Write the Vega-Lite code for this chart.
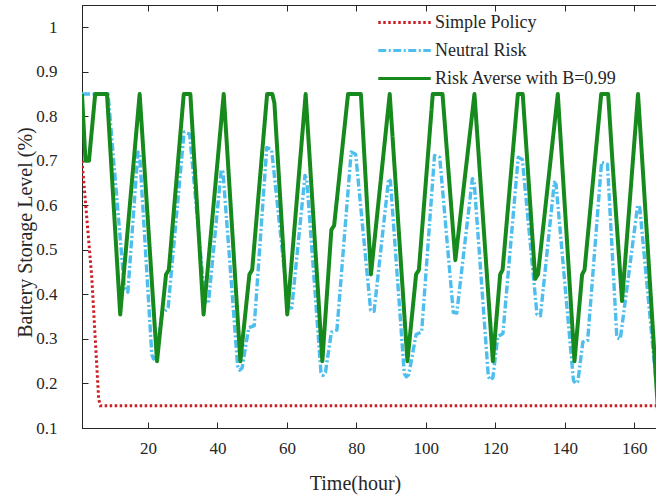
{
  "$schema": "https://vega.github.io/schema/vega-lite/v6.json",
  "width": 580,
  "height": 423,
  "autosize": {"type": "none"},
  "padding": {"left": 82, "top": 5, "right": 0, "bottom": 72},
  "background": "white",
  "config": {
    "font": "Liberation Serif",
    "view": {"stroke": "#262626", "strokeWidth": 1},
    "axis": {
      "domainColor": "#262626", "tickColor": "#262626", "labelColor": "#262626", "titleColor": "#262626",
      "grid": false, "tickSize": -6, "tickWidth": 1,
      "labelFont": "Liberation Serif", "titleFont": "Liberation Serif",
      "labelFontSize": 17, "titleFontSize": 20, "titleFontWeight": "normal"
    },
    "legend": {
      "labelFont": "Liberation Serif", "labelFontSize": 18, "labelColor": "#262626", "labelLimit": 400
    }
  },
  "data": {
    "values": [
      {"series": "Simple Policy", "hour": 1, "level": 0.70},
      {"series": "Simple Policy", "hour": 3.8, "level": 0.44},
      {"series": "Simple Policy", "hour": 5.8, "level": 0.165},
      {"series": "Simple Policy", "hour": 6.3, "level": 0.15},
      {"series": "Simple Policy", "hour": 168, "level": 0.15},

      {"series": "Neutral Risk", "hour": 1, "level": 0.85},
      {"series": "Neutral Risk", "hour": 8.5, "level": 0.85},
      {"series": "Neutral Risk", "hour": 13.2, "level": 0.415},
      {"series": "Neutral Risk", "hour": 14.2, "level": 0.405},
      {"series": "Neutral Risk", "hour": 17.1, "level": 0.72},
      {"series": "Neutral Risk", "hour": 17.6, "level": 0.715},
      {"series": "Neutral Risk", "hour": 21.1, "level": 0.265},
      {"series": "Neutral Risk", "hour": 21.6, "level": 0.255},
      {"series": "Neutral Risk", "hour": 22.3, "level": 0.26},
      {"series": "Neutral Risk", "hour": 24.0, "level": 0.355},
      {"series": "Neutral Risk", "hour": 25.8, "level": 0.37},
      {"series": "Neutral Risk", "hour": 30.4, "level": 0.765},
      {"series": "Neutral Risk", "hour": 32.0, "level": 0.76},
      {"series": "Neutral Risk", "hour": 36.4, "level": 0.385},
      {"series": "Neutral Risk", "hour": 37.4, "level": 0.38},
      {"series": "Neutral Risk", "hour": 41.1, "level": 0.68},
      {"series": "Neutral Risk", "hour": 41.6, "level": 0.675},
      {"series": "Neutral Risk", "hour": 45.8, "level": 0.24},
      {"series": "Neutral Risk", "hour": 46.4, "level": 0.23},
      {"series": "Neutral Risk", "hour": 47.1, "level": 0.235},
      {"series": "Neutral Risk", "hour": 49.0, "level": 0.325},
      {"series": "Neutral Risk", "hour": 50.6, "level": 0.33},
      {"series": "Neutral Risk", "hour": 54.2, "level": 0.73},
      {"series": "Neutral Risk", "hour": 55.6, "level": 0.725},
      {"series": "Neutral Risk", "hour": 60.4, "level": 0.37},
      {"series": "Neutral Risk", "hour": 61.4, "level": 0.37},
      {"series": "Neutral Risk", "hour": 65.2, "level": 0.667},
      {"series": "Neutral Risk", "hour": 65.7, "level": 0.66},
      {"series": "Neutral Risk", "hour": 69.8, "level": 0.225},
      {"series": "Neutral Risk", "hour": 70.4, "level": 0.218},
      {"series": "Neutral Risk", "hour": 71.1, "level": 0.225},
      {"series": "Neutral Risk", "hour": 72.8, "level": 0.315},
      {"series": "Neutral Risk", "hour": 74.4, "level": 0.32},
      {"series": "Neutral Risk", "hour": 78.5, "level": 0.72},
      {"series": "Neutral Risk", "hour": 79.8, "level": 0.715},
      {"series": "Neutral Risk", "hour": 84.1, "level": 0.365},
      {"series": "Neutral Risk", "hour": 85.1, "level": 0.362},
      {"series": "Neutral Risk", "hour": 89.3, "level": 0.66},
      {"series": "Neutral Risk", "hour": 89.8, "level": 0.655},
      {"series": "Neutral Risk", "hour": 93.8, "level": 0.222},
      {"series": "Neutral Risk", "hour": 94.4, "level": 0.215},
      {"series": "Neutral Risk", "hour": 95.1, "level": 0.22},
      {"series": "Neutral Risk", "hour": 97.2, "level": 0.31},
      {"series": "Neutral Risk", "hour": 98.8, "level": 0.316},
      {"series": "Neutral Risk", "hour": 102.5, "level": 0.712},
      {"series": "Neutral Risk", "hour": 104.0, "level": 0.708},
      {"series": "Neutral Risk", "hour": 107.9, "level": 0.36},
      {"series": "Neutral Risk", "hour": 108.9, "level": 0.358},
      {"series": "Neutral Risk", "hour": 113.4, "level": 0.66},
      {"series": "Neutral Risk", "hour": 113.9, "level": 0.655},
      {"series": "Neutral Risk", "hour": 118.0, "level": 0.215},
      {"series": "Neutral Risk", "hour": 118.6, "level": 0.208},
      {"series": "Neutral Risk", "hour": 119.3, "level": 0.213},
      {"series": "Neutral Risk", "hour": 120.7, "level": 0.305},
      {"series": "Neutral Risk", "hour": 122.2, "level": 0.312},
      {"series": "Neutral Risk", "hour": 126.6, "level": 0.708},
      {"series": "Neutral Risk", "hour": 127.8, "level": 0.703},
      {"series": "Neutral Risk", "hour": 132.0, "level": 0.355},
      {"series": "Neutral Risk", "hour": 133.0, "level": 0.352},
      {"series": "Neutral Risk", "hour": 137.0, "level": 0.652},
      {"series": "Neutral Risk", "hour": 137.5, "level": 0.647},
      {"series": "Neutral Risk", "hour": 142.5, "level": 0.207},
      {"series": "Neutral Risk", "hour": 143.1, "level": 0.2},
      {"series": "Neutral Risk", "hour": 143.8, "level": 0.205},
      {"series": "Neutral Risk", "hour": 145.2, "level": 0.293},
      {"series": "Neutral Risk", "hour": 146.6, "level": 0.297},
      {"series": "Neutral Risk", "hour": 150.6, "level": 0.697},
      {"series": "Neutral Risk", "hour": 152.3, "level": 0.692},
      {"series": "Neutral Risk", "hour": 155.0, "level": 0.303},
      {"series": "Neutral Risk", "hour": 156.0, "level": 0.3},
      {"series": "Neutral Risk", "hour": 161.0, "level": 0.6},
      {"series": "Neutral Risk", "hour": 161.6, "level": 0.595},
      {"series": "Neutral Risk", "hour": 166.7, "level": 0.17},
      {"series": "Neutral Risk", "hour": 168, "level": 0.15},

      {"series": "Risk Averse with B=0.99", "hour": 1, "level": 0.85},
      {"series": "Risk Averse with B=0.99", "hour": 2, "level": 0.70},
      {"series": "Risk Averse with B=0.99", "hour": 3, "level": 0.70},
      {"series": "Risk Averse with B=0.99", "hour": 4.8, "level": 0.85},
      {"series": "Risk Averse with B=0.99", "hour": 8.2, "level": 0.85},
      {"series": "Risk Averse with B=0.99", "hour": 12, "level": 0.355},
      {"series": "Risk Averse with B=0.99", "hour": 17.6, "level": 0.85},
      {"series": "Risk Averse with B=0.99", "hour": 22.6, "level": 0.25},
      {"series": "Risk Averse with B=0.99", "hour": 25.2, "level": 0.445},
      {"series": "Risk Averse with B=0.99", "hour": 26, "level": 0.455},
      {"series": "Risk Averse with B=0.99", "hour": 30.3, "level": 0.85},
      {"series": "Risk Averse with B=0.99", "hour": 32.2, "level": 0.85},
      {"series": "Risk Averse with B=0.99", "hour": 36, "level": 0.355},
      {"series": "Risk Averse with B=0.99", "hour": 41.8, "level": 0.85},
      {"series": "Risk Averse with B=0.99", "hour": 46.6, "level": 0.25},
      {"series": "Risk Averse with B=0.99", "hour": 49.2, "level": 0.445},
      {"series": "Risk Averse with B=0.99", "hour": 50, "level": 0.455},
      {"series": "Risk Averse with B=0.99", "hour": 54.3, "level": 0.85},
      {"series": "Risk Averse with B=0.99", "hour": 55.8, "level": 0.85},
      {"series": "Risk Averse with B=0.99", "hour": 56.4, "level": 0.83},
      {"series": "Risk Averse with B=0.99", "hour": 60.1, "level": 0.355},
      {"series": "Risk Averse with B=0.99", "hour": 65.4, "level": 0.85},
      {"series": "Risk Averse with B=0.99", "hour": 70.2, "level": 0.25},
      {"series": "Risk Averse with B=0.99", "hour": 72.8, "level": 0.545},
      {"series": "Risk Averse with B=0.99", "hour": 73.6, "level": 0.555},
      {"series": "Risk Averse with B=0.99", "hour": 77.6, "level": 0.85},
      {"series": "Risk Averse with B=0.99", "hour": 81.3, "level": 0.85},
      {"series": "Risk Averse with B=0.99", "hour": 84.2, "level": 0.445},
      {"series": "Risk Averse with B=0.99", "hour": 89.6, "level": 0.85},
      {"series": "Risk Averse with B=0.99", "hour": 94.7, "level": 0.25},
      {"series": "Risk Averse with B=0.99", "hour": 97.2, "level": 0.445},
      {"series": "Risk Averse with B=0.99", "hour": 98, "level": 0.455},
      {"series": "Risk Averse with B=0.99", "hour": 102, "level": 0.85},
      {"series": "Risk Averse with B=0.99", "hour": 104.8, "level": 0.85},
      {"series": "Risk Averse with B=0.99", "hour": 108.5, "level": 0.477},
      {"series": "Risk Averse with B=0.99", "hour": 114, "level": 0.85},
      {"series": "Risk Averse with B=0.99", "hour": 119.3, "level": 0.25},
      {"series": "Risk Averse with B=0.99", "hour": 121.4, "level": 0.445},
      {"series": "Risk Averse with B=0.99", "hour": 122.1, "level": 0.455},
      {"series": "Risk Averse with B=0.99", "hour": 126.5, "level": 0.85},
      {"series": "Risk Averse with B=0.99", "hour": 127.9, "level": 0.85},
      {"series": "Risk Averse with B=0.99", "hour": 131.5, "level": 0.435},
      {"series": "Risk Averse with B=0.99", "hour": 132.3, "level": 0.445},
      {"series": "Risk Averse with B=0.99", "hour": 138, "level": 0.85},
      {"series": "Risk Averse with B=0.99", "hour": 142.8, "level": 0.25},
      {"series": "Risk Averse with B=0.99", "hour": 145, "level": 0.445},
      {"series": "Risk Averse with B=0.99", "hour": 145.7, "level": 0.455},
      {"series": "Risk Averse with B=0.99", "hour": 150.5, "level": 0.85},
      {"series": "Risk Averse with B=0.99", "hour": 152.5, "level": 0.85},
      {"series": "Risk Averse with B=0.99", "hour": 153.8, "level": 0.69},
      {"series": "Risk Averse with B=0.99", "hour": 156.5, "level": 0.385},
      {"series": "Risk Averse with B=0.99", "hour": 161.1, "level": 0.85},
      {"series": "Risk Averse with B=0.99", "hour": 166.8, "level": 0.145},
      {"series": "Risk Averse with B=0.99", "hour": 168, "level": 0.145}
    ]
  },
  "encoding": {
    "x": {"field": "hour", "type": "quantitative",
      "scale": {"domain": [1, 168], "nice": false, "zero": false}},
    "y": {"field": "level", "type": "quantitative",
      "scale": {"domain": [0.1, 1.05], "nice": false, "zero": false}},
    "color": {"field": "series", "type": "nominal",
      "scale": {"domain": ["Simple Policy", "Neutral Risk", "Risk Averse with B=0.99"],
                "range": ["#CC1F24", "#4DBEEE", "#178A1E"]},
      "legend": {"title": null, "orient": "none", "legendX": 310, "legendY": 5,
                 "symbolType": "M-2.5,0H2.5", "symbolSize": 441, "symbolStrokeWidth": 3.2,
                 "labelOffset": 18, "rowPadding": 6, "labelLimit": 400}},
    "strokeDash": {"field": "series", "type": "nominal",
      "scale": {"domain": ["Simple Policy", "Neutral Risk", "Risk Averse with B=0.99"],
                "range": [[2.5, 2.5], [8, 2.5, 2, 2.5], [1, 0]]},
      "legend": {"title": null, "orient": "none", "legendX": 310, "legendY": 5,
                 "symbolType": "M-2.5,0H2.5", "symbolSize": 441, "symbolStrokeWidth": 3.2,
                 "labelOffset": 18, "rowPadding": 6, "labelLimit": 400}}
  },
  "layer": [
    {
      "transform": [{"filter": "datum.series === 'Simple Policy'"}],
      "mark": {"type": "line", "clip": true, "strokeWidth": 3},
      "encoding": {
        "x": {"field": "hour", "type": "quantitative",
          "axis": {"values": [20, 40, 60, 80, 100, 120, 140, 160], "title": "Time(hour)",
                   "labelPadding": 18, "titleX": 273, "titleY": 55, "titleBaseline": "middle"}},
        "y": {"field": "level", "type": "quantitative",
          "axis": {"values": [0.1, 0.2, 0.3, 0.4, 0.5, 0.6, 0.7, 0.8, 0.9, 1], "format": ".1~f",
                   "title": "Battery Storage Level (%)", "labelPadding": 31,
                   "titleX": -57, "titleY": 227, "titleBaseline": "middle"}}
      }
    },
    {
      "transform": [{"filter": "datum.series === 'Neutral Risk'"}],
      "mark": {"type": "line", "clip": true, "strokeWidth": 3.4, "strokeJoin": "round"},
      "encoding": {
        "x": {"field": "hour", "type": "quantitative",
          "axis": {"orient": "top", "values": [20, 40, 60, 80, 100, 120, 140, 160], "labels": false, "title": null}},
        "y": {"field": "level", "type": "quantitative",
          "axis": {"orient": "right", "values": [0.1, 0.2, 0.3, 0.4, 0.5, 0.6, 0.7, 0.8, 0.9, 1], "labels": false, "title": null}}
      }
    },
    {
      "transform": [{"filter": "datum.series === 'Risk Averse with B=0.99'"}],
      "mark": {"type": "line", "clip": true, "strokeWidth": 4, "strokeJoin": "round"},
      "encoding": {
        "x": {"field": "hour", "type": "quantitative", "axis": null},
        "y": {"field": "level", "type": "quantitative", "axis": null}
      }
    }
  ],
  "resolve": {"axis": {"x": "independent", "y": "independent"}}
}
